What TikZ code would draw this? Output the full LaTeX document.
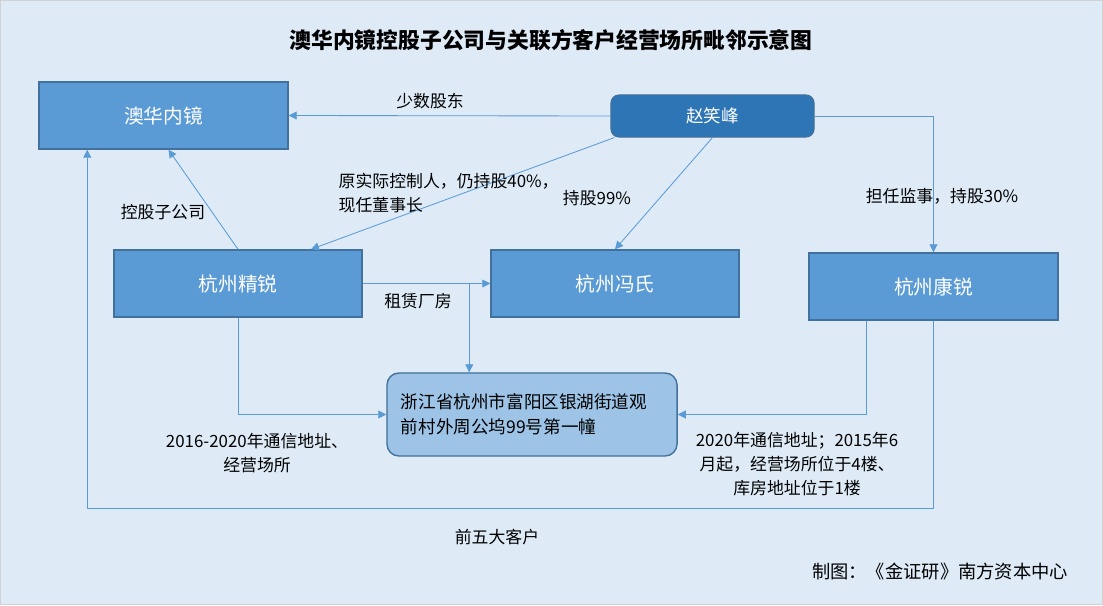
\documentclass[tikz,border=0pt]{standalone}
\usepackage{fontspec}
\setmainfont{Noto Sans CJK SC}
\usetikzlibrary{arrows.meta,calc,positioning}
\definecolor{bg}{HTML}{DEEBF7}
\definecolor{boxblue}{HTML}{5B9BD5}
\definecolor{boxedge}{HTML}{41719C}
\definecolor{darkbox}{HTML}{2E75B6}
\definecolor{addrfill}{HTML}{9DC3E6}
\begin{document}
\begin{tikzpicture}[x=0.025cm,y=-0.025cm,
company/.style={draw=boxedge,line width=1pt,fill=boxblue,text=white,
  minimum width=6.2cm,minimum height=1.675cm,font=\fontsize{14}{17}\selectfont},
person/.style={draw=boxedge,line width=0.8pt,fill=darkbox,text=white,rounded corners=0.2cm,
  minimum width=5.075cm,minimum height=1.05cm,font=\fontsize{12.5}{15}\selectfont},
place/.style={draw=boxedge,line width=1pt,fill=addrfill,rounded corners=0.3cm,
  minimum width=7.25cm,minimum height=2.075cm,text width=6.55cm,align=left,
  font=\fontsize{12.5}{17.5}\selectfont},
link/.style={draw=boxblue,line width=0.6pt,-{Triangle[length=0.2cm,width=0.2cm,fill=boxblue]}},
description/.style={font=\fontsize{12}{17}\selectfont,inner sep=1pt}]
\useasboundingbox (0,0) rectangle (1103,605);
\fill[bg] (0,0) rectangle (1103,605);
\draw[black!18,line width=1pt] (0.5,0.5) rectangle (1102.5,604.5);
% title
\node[font=\fontsize{15.5}{19}\selectfont\bfseries] (title) at (551,40) {澳华内镜控股子公司与关联方客户经营场所毗邻示意图};
% boxes
\node[company,minimum width=6.225cm] (aohua) at (163.5,115.5) {澳华内镜};
\node[person] (zhao) at (712.5,116) {赵笑峰};
\node[company] (jingrui) at (238,283.5) {杭州精锐};
\node[company] (fengshi) at (615,283.5) {杭州冯氏};
\node[company,minimum width=6.225cm] (kangrui) at (933.5,286.5) {杭州康锐};
\node[place] (addr) at (532,414.5) {浙江省杭州市富阳区银湖街道观\\前村外周公坞99号第一幢\\[4pt]};
\coordinate (rent) at ($(addr.north west)+(83,0)$);
% connectors
\draw[link] (zhao.west) -- (aohua.east);
\draw[link] (zhao.east) -| (kangrui.north);
\draw[link] (zhao.south) -- (fengshi.north);
\draw[link] ($(zhao.south west)+(4,0)$) -- ($(jingrui.north)+(73,0)$);
\draw[link] (jingrui.north) -- ($(aohua.south)+(5,0)$);
\draw[link] (jingrui.east) -- (fengshi.west);
\draw[link] (rent |- jingrui.east) -- (rent);
\draw[link] (jingrui.south) |- (addr.west);
\draw[link] ($(kangrui.south west)+(58,0)$) |- (addr.east);
\draw[link] (kangrui.south) -- ++(0,188) -| ($(aohua.south west)+(49,0)$);
% labels
\node[description] (minor) at (430,101) {少数股东};
\node[description] (holding) at (163,212) {控股子公司};
\node[description,anchor=west,align=left] (former) at (337,193) {原实际控制人，仍持股40\%，\\现任董事长};
\node[description] (share99) at (597,198) {持股99\%};
\node[description] (share30) at (942,196) {担任监事，持股30\%};
\node[description] (lease) at (418,301) {租赁厂房};
\node[description,align=center] (oldaddr) at (257,453) {2016-2020年通信地址、\\经营场所};
\node[description,align=center] (newaddr) at (797,464) {2020年通信地址；2015年6\\月起，经营场所位于4楼、\\库房地址位于1楼};
\node[description] (top5) at (497,537) {前五大客户};
\node[description,font=\fontsize{13}{16}\selectfont] (source) at (940,572) {制图：《金证研》南方资本中心};
\end{tikzpicture}
\end{document}
